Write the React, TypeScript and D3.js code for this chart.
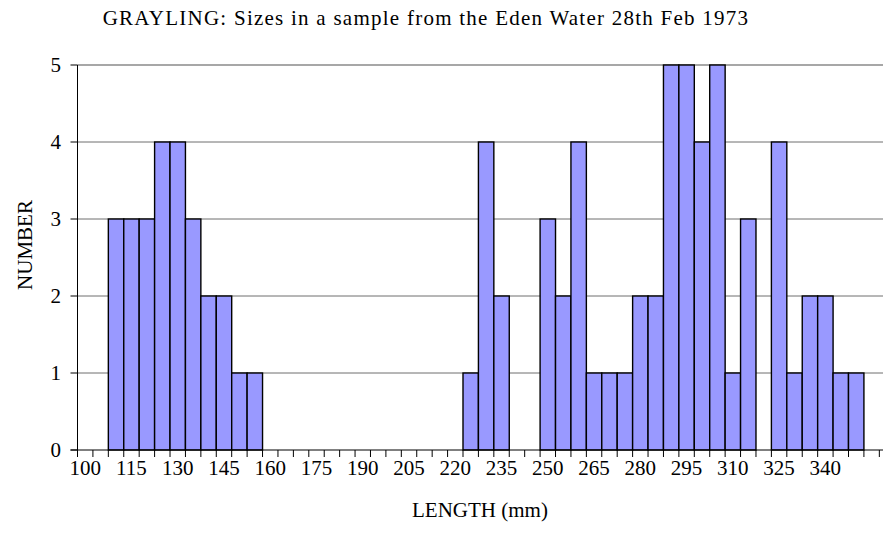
import React from "react";
import * as d3 from "d3";

const categories: string[] = [
  "100", "105", "110", "115", "120", "125", "130", "135", "140", "145",
  "150", "155", "160", "165", "170", "175", "180", "185", "190", "195",
  "200", "205", "210", "215", "220", "225", "230", "235", "240", "245",
  "250", "255", "260", "265", "270", "275", "280", "285", "290", "295",
  "300", "305", "310", "315", "320", "325", "330", "335", "340", "345",
  "350", "355", "360",
];

const counts: number[] = [
  0, 0, 3, 3, 3, 4, 4, 3, 2, 2,
  1, 1, 0, 0, 0, 0, 0, 0, 0, 0,
  0, 0, 0, 0, 0, 1, 4, 2, 0, 0,
  3, 2, 4, 1, 1, 1, 2, 2, 5, 5,
  4, 5, 1, 3, 0, 4, 1, 2, 2, 1,
  1, 0, 0,
];

const xTickLabels: string[] = [
  "100", "115", "130", "145", "160", "175", "190", "205", "220",
  "235", "250", "265", "280", "295", "310", "325", "340",
];

const yTicks: number[] = [0, 1, 2, 3, 4, 5];

const TITLE = "GRAYLING: Sizes in a sample from the Eden Water 28th Feb 1973";
const X_TITLE = "LENGTH (mm)";
const Y_TITLE = "NUMBER";

const W = 883;
const H = 541;
const FONT = "'Liberation Serif', 'Times New Roman', serif";

export default function App() {
  const left = 77.5;
  const step = 15.42;
  const x = d3
    .scaleBand<string>()
    .domain(categories)
    .range([left, left + step * categories.length])
    .padding(0);
  const y = d3.scaleLinear().domain([0, 5]).range([450, 65]);
  const x0 = left;
  const x1 = W;

  return (
    <svg
      width={W}
      height={H}
      style={{ position: "absolute", left: 0, top: 0, background: "#fff" }}
      fontFamily={FONT}
    >
      <rect x={0} y={0} width={W} height={H} fill="#fff" />
      {yTicks
        .filter((t) => t > 0)
        .map((t) => (
          <line
            key={"g" + t}
            x1={x0}
            x2={x1}
            y1={y(t)}
            y2={y(t)}
            stroke={t === 5 ? "#8a8a8a" : "#6e6e6e"}
            strokeWidth={t === 5 ? 1.6 : 1}
          />
        ))}
      {categories.map((c, i) =>
        counts[i] > 0 ? (
          <rect
            key={"b" + c}
            x={x(c)!}
            y={y(counts[i])}
            width={x.bandwidth()}
            height={y(0) - y(counts[i])}
            fill="#9999FF"
            stroke="#000"
            strokeWidth={1.4}
          />
        ) : null
      )}
      <line x1={x0} x2={x0} y1={y(5)} y2={y(0)} stroke="#000" strokeWidth={1} />
      <line x1={x0 - 7} x2={x1} y1={y(0)} y2={y(0)} stroke="#000" strokeWidth={1} />
      {yTicks.map((t) => (
        <g key={"yt" + t}>
          <line x1={x0 - 7} x2={x0} y1={y(t)} y2={y(t)} stroke="#000" />
          <text
            x={61}
            y={y(t)}
            dy="0.35em"
            textAnchor="end"
            fontSize={21}
            fill="#000"
          >
            {t}
          </text>
        </g>
      ))}
      {categories.map((c) => (
        <line
          key={"xt" + c}
          x1={x(c)!}
          x2={x(c)!}
          y1={y(0)}
          y2={y(0) + 7}
          stroke="#000"
        />
      ))}
      {xTickLabels.map((l) => (
        <text
          key={"xl" + l}
          x={x(l)! + x.bandwidth() / 2}
          y={475}
          textAnchor="middle"
          fontSize={21}
          fill="#000"
        >
          {l}
        </text>
      ))}
      <text x={480} y={517} textAnchor="middle" fontSize={21} fill="#000">
        {X_TITLE}
      </text>
      <text
        transform={`translate(32, ${245}) rotate(-90)`}
        textAnchor="middle"
        fontSize={21}
        fill="#000"
      >
        {Y_TITLE}
      </text>
      <text
        x={426}
        y={25}
        textAnchor="middle"
        fontSize={21}
        letterSpacing={1.25}
        fill="#000"
      >
        {TITLE}
      </text>
    </svg>
  );
}
